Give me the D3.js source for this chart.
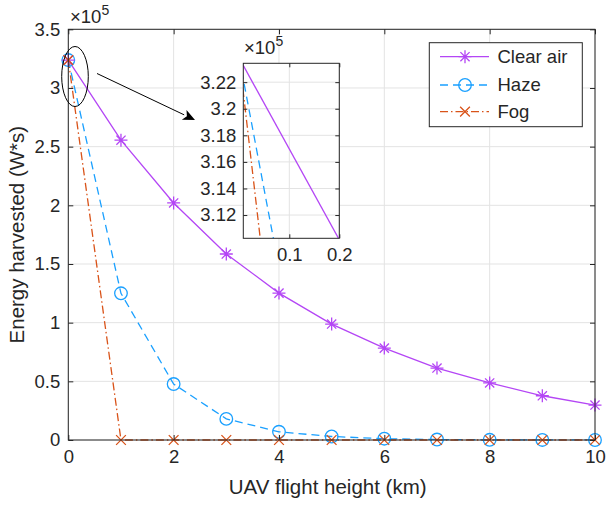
<!DOCTYPE html>
<html><head><meta charset="utf-8">
<script src="https://cdn.jsdelivr.net/npm/d3@7"></script>
<style>
html,body{margin:0;padding:0;background:#fff;}
svg{display:block;font-family:"Liberation Sans",Arial,Helvetica,sans-serif;}
</style></head>
<body><svg id="c" width="606" height="506"></svg>
<script>
// ---- data (values in units of 1e5 W*s) ----
const heights = [0,1,2,3,4,5,6,7,8,9,10];
const clearAir = [3.238,2.555,2.02,1.585,1.252,0.988,0.783,0.613,0.486,0.377,0.298];
const haze     = [3.238,1.25,0.477,0.18,0.07,0.03,0.011,0.004,0.0015,0.0006,0.0002];
const fog      = [3.238,0,0,0,0,0,0,0,0,0,0];
const seriesNames = ["Clear air","Haze","Fog"];
const xTicks = [0,2,4,6,8,10];
const yTicks = [0,0.5,1,1.5,2,2.5,3,3.5];
const insetXTicks = [0.1,0.2];
const insetYTicks = [3.12,3.14,3.16,3.18,3.20,3.22];
const xLabel = "UAV flight height (km)";
const yLabel = "Energy harvested (W*s)";

const colors = ["#b446f5","#1aa0ff","#d95319"];
const dashes = [null,"8,5","8,3,1.5,3"];
const markers = ["star","circle","cross"];
const ink = "#262626";
const gridC = "#e3e3e3";

const svg = d3.select("#c");
const M = {l:68.3, r:595, t:29.3, b:440};
const x = d3.scaleLinear().domain([0,10]).range([M.l,M.r]);
const y = d3.scaleLinear().domain([0,3.5]).range([M.b,M.t]);

const series = [clearAir,haze,fog].map((v,i)=>({name:seriesNames[i],values:v.map((d,j)=>({x:heights[j],y:d})),color:colors[i],dash:dashes[i],marker:markers[i]}));

function markerPath(type, s){
  if(type==="star"){ const a=s*0.707; return `M${-s},0L${s},0M0,${-s}L0,${s}M${-a},${-a}L${a},${a}M${-a},${a}L${a},${-a}`; }
  if(type==="cross"){ const a=s*0.75; return `M${-a},${-a}L${a},${a}M${-a},${a}L${a},${-a}`; }
  return null;
}
function drawMarker(g, type, cx, cy, color){
  if(type==="circle"){
    g.append("circle").attr("cx",cx).attr("cy",cy).attr("r",6.3).attr("fill","none").attr("stroke",color).attr("stroke-width",1.3);
  } else {
    g.append("path").attr("transform",`translate(${cx},${cy})`).attr("d",markerPath(type, type==="star"?6.5:6.5)).attr("fill","none").attr("stroke",color).attr("stroke-width",1.3);
  }
}

// ---- main axes ----
const main = svg.append("g");
main.append("rect").attr("x",M.l).attr("y",M.t).attr("width",M.r-M.l).attr("height",M.b-M.t).attr("fill","#fff");
// grid
main.append("g").selectAll("line").data(xTicks).join("line")
  .attr("x1",d=>x(d)).attr("x2",d=>x(d)).attr("y1",M.t).attr("y2",M.b).attr("stroke",gridC).attr("stroke-width",1);
main.append("g").selectAll("line").data(yTicks).join("line")
  .attr("y1",d=>y(d)).attr("y2",d=>y(d)).attr("x1",M.l).attr("x2",M.r).attr("stroke",gridC).attr("stroke-width",1);

const clipId="mainclip";
svg.append("clipPath").attr("id",clipId).append("rect").attr("x",M.l-8).attr("y",M.t).attr("width",M.r-M.l+16).attr("height",M.b-M.t+8);

const line = d3.line().x(d=>x(d.x)).y(d=>y(d.y));
const plotG = main.append("g");
// draw in order haze, clear, fog so fog on top
[1,0,2].forEach(i=>{
  const s=series[i];
  plotG.append("path").attr("d",line(s.values)).attr("fill","none").attr("stroke",s.color).attr("stroke-width",1.3)
   .attr("stroke-dasharray",s.dash);
});
[1,0,2].forEach(i=>{
  const s=series[i];
  const mg=plotG.append("g");
  s.values.forEach(d=>drawMarker(mg,s.marker,x(d.x),y(d.y),s.color));
});

// axes with d3 axis (ticks inside)
const axB = d3.axisBottom(x).tickValues(xTicks).tickSize(-5).tickPadding(10).tickFormat(d3.format("d"));
const axL = d3.axisLeft(y).tickValues(yTicks).tickSize(-5).tickPadding(8).tickFormat(d=>d3.format("")(d));
const axT = d3.axisTop(x).tickValues(xTicks).tickSize(-5).tickFormat("");
const axR = d3.axisRight(y).tickValues(yTicks).tickSize(-5).tickFormat("");
function styleAxis(g, fs){
  g.select(".domain").attr("stroke",ink).attr("stroke-width",1);
  g.selectAll(".tick line").attr("stroke",ink).attr("stroke-width",1);
  g.selectAll(".tick text").attr("fill",ink).style("font-size",fs+"px").style("font-family",'"Liberation Sans",Arial,sans-serif');
}
styleAxis(main.append("g").attr("transform",`translate(0,${M.b})`).call(axB),18.5);
styleAxis(main.append("g").attr("transform",`translate(${M.l},0)`).call(axL),18.5);
styleAxis(main.append("g").attr("transform",`translate(0,${M.t})`).call(axT),18.5);
styleAxis(main.append("g").attr("transform",`translate(${M.r},0)`).call(axR),18.5);

// exponent
const ex = svg.append("text").attr("x",70).attr("y",23).attr("fill",ink).style("font-size","18.5px");
ex.append("tspan").text("×10");
ex.append("tspan").attr("dy",-8).style("font-size","14px").text("5");

// labels
svg.append("text").attr("x",(M.l+M.r)/2-4).attr("y",494).attr("text-anchor","middle").attr("fill",ink).style("font-size","20.5px").text(xLabel);
svg.append("text").attr("transform",`translate(24,${(M.t+M.b)/2}) rotate(-90)`).attr("text-anchor","middle").attr("fill",ink).style("font-size","20.5px").text(yLabel);

// ellipse + arrow annotation
svg.append("ellipse").attr("cx",75).attr("cy",76.5).attr("rx",13.3).attr("ry",30).attr("fill","none").attr("stroke","#000").attr("stroke-width",1);
const ax1=97, ay1=73.5, ax2=195, ay2=120;
const ang=Math.atan2(ay2-ay1,ax2-ax1);
const hl=12, hw=5.5;
const bx=ax2-hl*Math.cos(ang), by=ay2-hl*Math.sin(ang);
svg.append("line").attr("x1",ax1).attr("y1",ay1).attr("x2",bx).attr("y2",by).attr("stroke","#000").attr("stroke-width",1);
svg.append("path").attr("d",`M${ax2},${ay2}L${bx - hw*Math.sin(ang)},${by + hw*Math.cos(ang)}L${bx+ (hl*0.25)*Math.cos(ang)},${by+(hl*0.25)*Math.sin(ang)}L${bx + hw*Math.sin(ang)},${by - hw*Math.cos(ang)}Z`).attr("fill","#000");

// legend
const L = {x:429.3, y:42.7, w:153, h:84};
const lg = svg.append("g");
lg.append("rect").attr("x",L.x).attr("y",L.y).attr("width",L.w).attr("height",L.h).attr("fill","#fff").attr("stroke",ink).attr("stroke-width",1);
const legY=[56.7,85,111.7];
series.forEach((s,i)=>{
  lg.append("line").attr("x1",440).attr("x2",489).attr("y1",legY[i]).attr("y2",legY[i]).attr("stroke",s.color).attr("stroke-width",1.3).attr("stroke-dasharray",s.dash);
  drawMarker(lg,s.marker,465,legY[i],s.color);
  lg.append("text").attr("x",497.5).attr("y",legY[i]).attr("dy","0.35em").attr("fill",ink).style("font-size","18.5px").text(s.name);
});

// ---- inset ----
const I = {l:243.3, r:339.3, t:63.3, b:238.3};
const xi = d3.scaleLinear().domain([0.008,0.2]).range([I.l,I.r]);
const yi = d3.scaleLinear().domain([3.1025,3.2342]).range([I.b,I.t]);
const ins = svg.append("g");
ins.append("rect").attr("x",I.l).attr("y",I.t).attr("width",I.r-I.l).attr("height",I.b-I.t).attr("fill","#fff");
ins.append("g").selectAll("line").data(insetXTicks).join("line")
  .attr("x1",d=>xi(d)).attr("x2",d=>xi(d)).attr("y1",I.t).attr("y2",I.b).attr("stroke",gridC);
ins.append("g").selectAll("line").data(insetYTicks).join("line")
  .attr("y1",d=>yi(d)).attr("y2",d=>yi(d)).attr("x1",I.l).attr("x2",I.r).attr("stroke",gridC);
svg.append("clipPath").attr("id","insclip").append("rect").attr("x",I.l).attr("y",I.t).attr("width",I.r-I.l).attr("height",I.b-I.t);
const lineI = d3.line().x(d=>xi(d.x)).y(d=>yi(d.y));
const insPlot = ins.append("g").attr("clip-path","url(#insclip)");
[1,0,2].forEach(i=>{
  const s=series[i];
  insPlot.append("path").attr("d",lineI(s.values.slice(0,2))).attr("fill","none").attr("stroke",s.color).attr("stroke-width",1.3).attr("stroke-dasharray",s.dash);
});
const aiB = d3.axisBottom(xi).tickValues(insetXTicks).tickSize(-4).tickPadding(10).tickFormat(d3.format(".1f"));
const aiL = d3.axisLeft(yi).tickValues(insetYTicks).tickSize(-4).tickPadding(7).tickFormat(d3.format(".2~f"));
const aiT = d3.axisTop(xi).tickValues(insetXTicks).tickSize(-4).tickFormat("");
const aiR = d3.axisRight(yi).tickValues(insetYTicks).tickSize(-4).tickFormat("");
function fixDomain(g){ g.select(".domain").attr("d", g.select(".domain").attr("d").replace(/V-?\d+(\.\d+)?/g,"").replace(/H-?\d+(\.\d+)?/g,"")); }
styleAxis(ins.append("g").attr("transform",`translate(0,${I.b})`).call(aiB),18.5);
styleAxis(ins.append("g").attr("transform",`translate(${I.l},0)`).call(aiL),18.5);
styleAxis(ins.append("g").attr("transform",`translate(0,${I.t})`).call(aiT),18.5);
styleAxis(ins.append("g").attr("transform",`translate(${I.r},0)`).call(aiR),18.5);
ins.selectAll(".domain").remove();
ins.append("rect").attr("x",I.l).attr("y",I.t).attr("width",I.r-I.l).attr("height",I.b-I.t).attr("fill","none").attr("stroke",ink).attr("stroke-width",1);
const exi = svg.append("text").attr("x",244).attr("y",54).attr("fill",ink).style("font-size","18.5px");
exi.append("tspan").text("×10");
exi.append("tspan").attr("dy",-8).style("font-size","14px").text("5");

// main axes domains: clean box
main.selectAll(".domain").remove();
main.append("rect").attr("x",M.l).attr("y",M.t).attr("width",M.r-M.l).attr("height",M.b-M.t).attr("fill","none").attr("stroke",ink).attr("stroke-width",1);
</script></body></html>
